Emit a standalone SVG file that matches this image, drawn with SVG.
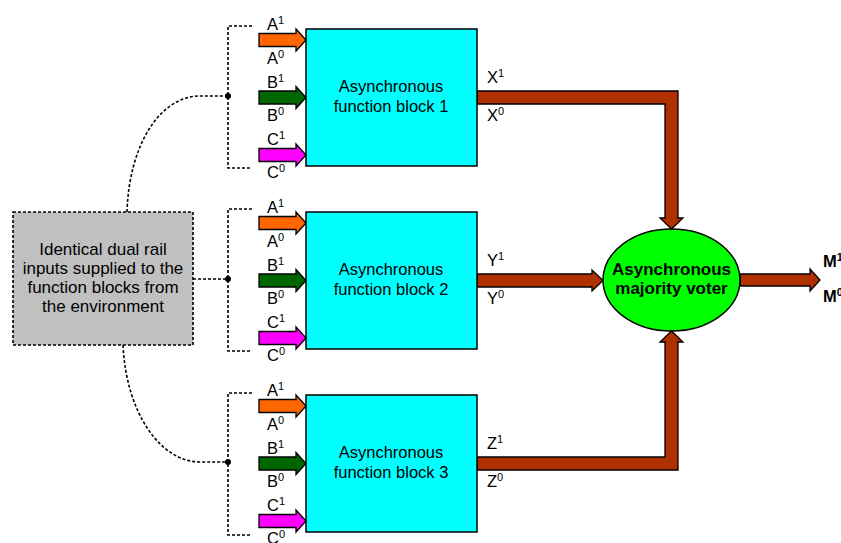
<svg xmlns="http://www.w3.org/2000/svg" xmlns:xlink="http://www.w3.org/1999/xlink" width="841" height="543" viewBox="0 0 841 543">
<style>
text{font-family:"Liberation Sans",Arial,sans-serif;fill:#000}
.lbl{font-size:16.5px}
.blk{font-size:16.5px;text-anchor:middle}
.env{font-size:17px;text-anchor:middle}
.sup{font-size:11px}
.dot{fill:none;stroke:#000;stroke-width:1.6;stroke-dasharray:3 2}
.arr{stroke:#000;stroke-width:1.3;stroke-linejoin:miter}
.o{fill:#FF6600}.g{fill:#006600}.m{fill:#FF00FF}
.br{fill:#B03000;stroke:#000;stroke-width:1.3}
.box{fill:#00FFFF;stroke:#000;stroke-width:1.5}
</style>
<defs>
<path id="inA" d="M0,-6.5H37V-11L47,0L37,11V6.5H0Z"/>
</defs>
<rect width="841" height="543" fill="#fff"/>
<g id="connectors">
<path class="dot" d="M252,26H228V168H252"/>
<path class="dot" d="M252,209H228V351H252"/>
<path class="dot" d="M252,393H228V535H252"/>
<path class="dot" d="M127,212C129,145 160,96 200,96H228"/>
<path class="dot" d="M123,345C126,412 160,462 200,462H228"/>
<path class="dot" d="M193,279H228"/>
<circle cx="228" cy="96" r="3"/>
<circle cx="228" cy="279" r="3"/>
<circle cx="228" cy="462" r="3"/>
<use xlink:href="#inA" class="arr o" x="259" y="40"/>
<use xlink:href="#inA" class="arr g" x="259" y="97.5"/>
<use xlink:href="#inA" class="arr m" x="259" y="155"/>
<use xlink:href="#inA" class="arr o" x="259" y="223"/>
<use xlink:href="#inA" class="arr g" x="259" y="280.5"/>
<use xlink:href="#inA" class="arr m" x="259" y="338"/>
<use xlink:href="#inA" class="arr o" x="259" y="406"/>
<use xlink:href="#inA" class="arr g" x="259" y="463.5"/>
<use xlink:href="#inA" class="arr m" x="259" y="521"/>
<path class="br" d="M477,91H678V218H683L671.5,229L660,218H665V104H477Z"/>
<path class="br" d="M477,274H592V270L603,280.5L592,291V287H477Z"/>
<path class="br" d="M477,457H665V342H660L671.5,331L683,342H678V470H477Z"/>
<path class="br" d="M740,274H810V269L820,280L810,291V286H740Z"/>
</g>
<g id="labels">
<text class="lbl" x="267" y="30">A<tspan class="sup" dy="-6">1</tspan></text>
<text class="lbl" x="267" y="64">A<tspan class="sup" dy="-6">0</tspan></text>
<text class="lbl" x="267" y="88">B<tspan class="sup" dy="-6">1</tspan></text>
<text class="lbl" x="267" y="121">B<tspan class="sup" dy="-6">0</tspan></text>
<text class="lbl" x="267" y="145">C<tspan class="sup" dy="-6">1</tspan></text>
<text class="lbl" x="267" y="178">C<tspan class="sup" dy="-6">0</tspan></text>
<text class="lbl" x="267" y="213">A<tspan class="sup" dy="-6">1</tspan></text>
<text class="lbl" x="267" y="247">A<tspan class="sup" dy="-6">0</tspan></text>
<text class="lbl" x="267" y="271">B<tspan class="sup" dy="-6">1</tspan></text>
<text class="lbl" x="267" y="304">B<tspan class="sup" dy="-6">0</tspan></text>
<text class="lbl" x="267" y="328">C<tspan class="sup" dy="-6">1</tspan></text>
<text class="lbl" x="267" y="361">C<tspan class="sup" dy="-6">0</tspan></text>
<text class="lbl" x="267" y="396">A<tspan class="sup" dy="-6">1</tspan></text>
<text class="lbl" x="267" y="430">A<tspan class="sup" dy="-6">0</tspan></text>
<text class="lbl" x="267" y="454">B<tspan class="sup" dy="-6">1</tspan></text>
<text class="lbl" x="267" y="487">B<tspan class="sup" dy="-6">0</tspan></text>
<text class="lbl" x="267" y="511">C<tspan class="sup" dy="-6">1</tspan></text>
<text class="lbl" x="267" y="544">C<tspan class="sup" dy="-6">0</tspan></text>
<text class="lbl" x="487" y="83">X<tspan class="sup" dy="-6">1</tspan></text>
<text class="lbl" x="487" y="121">X<tspan class="sup" dy="-6">0</tspan></text>
<text class="lbl" x="487" y="266">Y<tspan class="sup" dy="-6">1</tspan></text>
<text class="lbl" x="487" y="304">Y<tspan class="sup" dy="-6">0</tspan></text>
<text class="lbl" x="487" y="449">Z<tspan class="sup" dy="-6">1</tspan></text>
<text class="lbl" x="487" y="487">Z<tspan class="sup" dy="-6">0</tspan></text>
<text x="823" y="267" font-size="16.5" font-weight="bold">M<tspan class="sup" dy="-6">1</tspan></text>
<text x="823" y="302" font-size="16.5" font-weight="bold">M<tspan class="sup" dy="-6">0</tspan></text>
</g>
<g id="env">
<rect x="13" y="212" width="180" height="133" class="dot" style="fill:#C0C0C0"/>
<text class="env" x="103" y="255">Identical dual rail</text>
<text class="env" x="103" y="274">inputs supplied to the</text>
<text class="env" x="103" y="293">function blocks from</text>
<text class="env" x="103" y="312">the environment</text>
</g>
<g id="block1">
<rect class="box" x="306" y="29" width="171" height="137"/>
<text class="blk" x="391" y="92">Asynchronous</text>
<text class="blk" x="391" y="112">function block 1</text>
</g>
<g id="block2">
<rect class="box" x="306" y="212" width="171" height="137"/>
<text class="blk" x="391" y="275">Asynchronous</text>
<text class="blk" x="391" y="295">function block 2</text>
</g>
<g id="block3">
<rect class="box" x="306" y="395" width="171" height="137"/>
<text class="blk" x="391" y="458">Asynchronous</text>
<text class="blk" x="391" y="478">function block 3</text>
</g>
<g id="voter">
<ellipse cx="671.5" cy="280" rx="68.5" ry="51" fill="#00FF00" stroke="#000" stroke-width="1.5"/>
<text x="671.5" y="275" font-size="17" font-weight="bold" text-anchor="middle">Asynchronous</text>
<text x="671.5" y="294" font-size="17" font-weight="bold" text-anchor="middle">majority voter</text>
</g>
</svg>
